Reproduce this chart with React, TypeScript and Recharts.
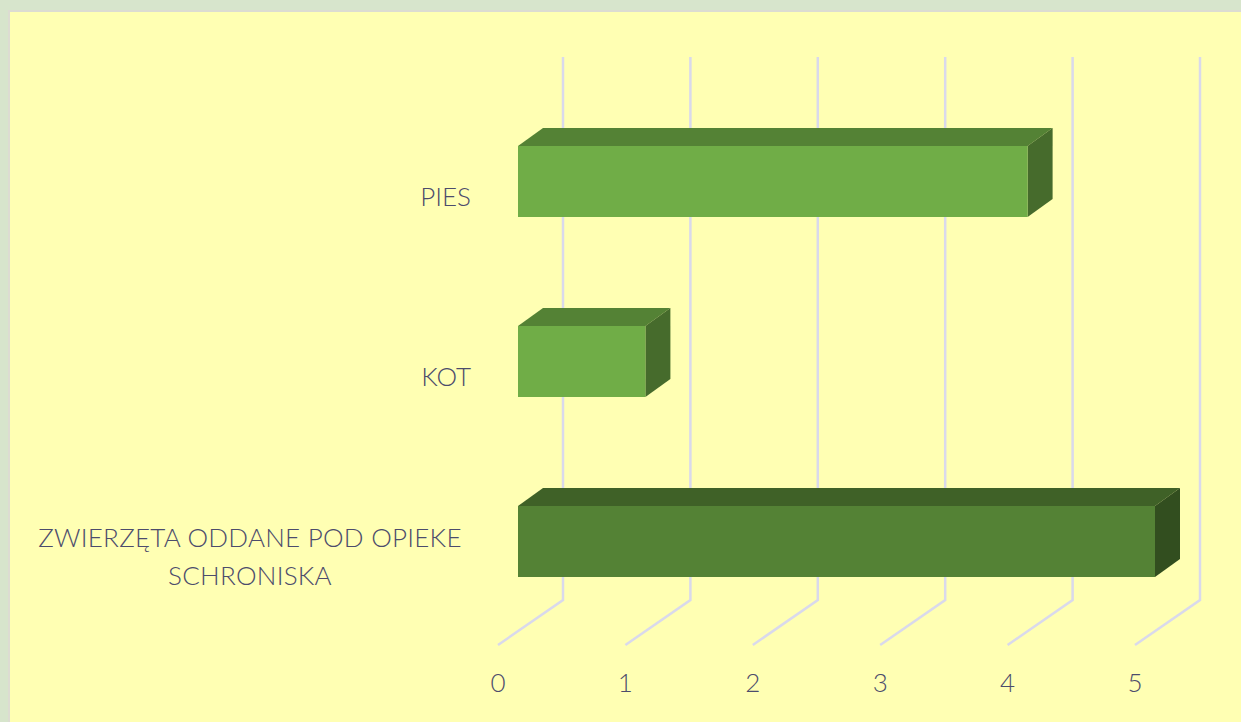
import React from 'react';
import { BarChart, Bar, XAxis, YAxis, CartesianGrid } from 'recharts';

const categories = ['PIES', 'KOT', 'ZWIERZĘTA ODDANE POD OPIEKE SCHRONISKA'];
const values = [4, 1, 5];
const xTicks = [0, 1, 2, 3, 4, 5];

const chartData = categories.map((name, i) => ({ name, value: values[i] }));

// face colours per bar: front, top, side
const barFaces = [
  ['#70ad47', '#548235', '#466b2c'],
  ['#70ad47', '#548235', '#466b2c'],
  ['#548235', '#3f6127', '#324e1f'],
];

const GRID = '#d9d9ec';
const TEXT = '#4c4c6c';
const FONT = 'Lato, sans-serif';

// fake 3D: the floor runs 65px right and 45px up from the axis
const DEPTH_X = 65;
const DEPTH_Y = 45;
const GRID_TOP = 57;

const renderGridLine = (props: any) => {
  const { x1, y2, y1, key } = props;
  const bottom = Math.max(y1, y2);
  return (
    <polyline
      key={key}
      points={`${x1},${bottom} ${x1 + DEPTH_X},${bottom - DEPTH_Y} ${x1 + DEPTH_X},${GRID_TOP}`}
      fill="none"
      stroke={GRID}
      strokeWidth={2.5}
    />
  );
};

const Bar3D = (props: any) => {
  const { x, y, width, height, index } = props;
  const [front, top, side] = barFaces[index];
  const fx = x + 20;
  const fy = y - 14;
  const dx = 25;
  const dy = 18;
  return (
    <g>
      <polygon
        points={`${fx},${fy} ${fx + dx},${fy - dy} ${fx + width + dx},${fy - dy} ${fx + width},${fy}`}
        fill={top}
      />
      <polygon
        points={`${fx + width},${fy} ${fx + width + dx},${fy - dy} ${fx + width + dx},${fy + height - dy} ${fx + width},${fy + height}`}
        fill={side}
      />
      <rect x={fx} y={fy} width={width} height={height} fill={front} />
    </g>
  );
};

const CategoryTick = (props: any) => {
  const { y, payload } = props;
  if (payload.value === categories[2]) {
    return (
      <text fontFamily={FONT} fontSize={26} fontWeight={300} fill={TEXT} textAnchor="middle" letterSpacing={0.25}>
        <tspan x={250} y={y - 8}>ZWIERZĘTA ODDANE POD OPIEKE</tspan>
        <tspan x={250} y={y + 30}>SCHRONISKA</tspan>
      </text>
    );
  }
  return (
    <text x={471} y={y + 11} fontFamily={FONT} fontSize={26} fontWeight={300} fill={TEXT} textAnchor="end">
      {payload.value}
    </text>
  );
};

export default function App() {
  return (
    <div
      style={{
        position: 'absolute',
        left: 0,
        top: 0,
        width: 1241,
        height: 722,
        overflow: 'hidden',
        background: '#d7e5cc',
      }}
    >
      <div
        style={{
          position: 'absolute',
          left: 8,
          top: 10,
          width: 1240,
          height: 720,
          background: '#ffffb3',
          border: '2px solid #dcdcd2',
        }}
      />
      <div style={{ position: 'absolute', left: 0, top: 0 }}>
        <BarChart
          width={1241}
          height={722}
          data={chartData}
          layout="vertical"
          margin={{ top: 105, right: 106, bottom: 0, left: 0 }}
        >
          <CartesianGrid horizontal={false} vertical={renderGridLine} />
          <XAxis
            type="number"
            domain={[0, 5]}
            ticks={xTicks}
            height={77}
            axisLine={false}
            tickLine={false}
            tickMargin={23}
            tick={{ fill: TEXT, fontSize: 26, fontWeight: 300, fontFamily: FONT }}
          />
          <YAxis
            type="category"
            dataKey="name"
            width={498}
            axisLine={false}
            tickLine={false}
            interval={0}
            tick={<CategoryTick />}
          />
          <Bar dataKey="value" barSize={71} shape={<Bar3D />} isAnimationActive={false} />
        </BarChart>
      </div>
    </div>
  );
}
